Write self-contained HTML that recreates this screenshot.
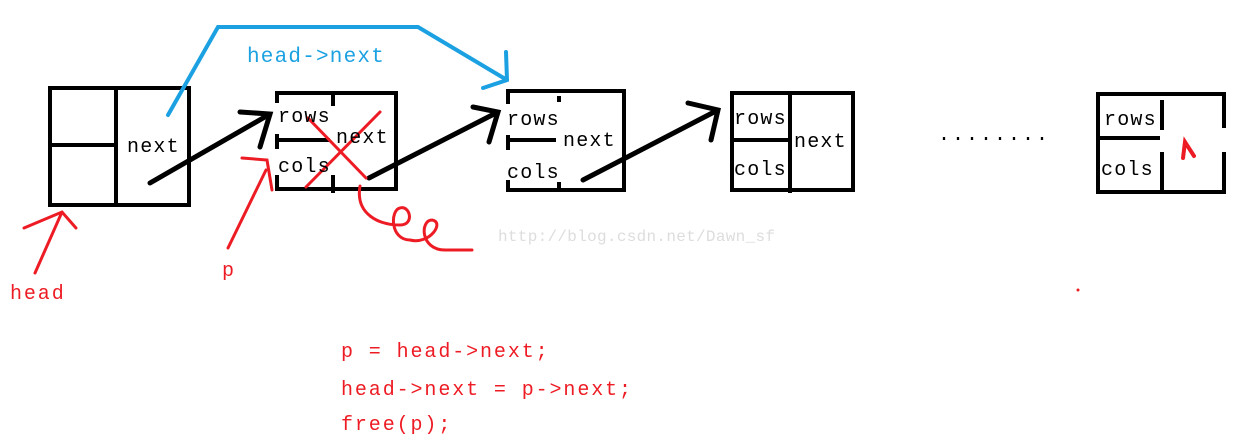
<!DOCTYPE html>
<html><head><style>body{margin:0;background:#fff}svg{display:block}</style></head><body>
<svg width="1256" height="447" xmlns="http://www.w3.org/2000/svg" font-family="Liberation Mono, monospace">
<g fill="none" stroke="#000" stroke-width="4">
<rect x="50" y="88" width="139" height="117"/><line x1="116" y1="88" x2="116" y2="205"/><line x1="50" y1="145" x2="116" y2="145"/>
<line x1="275" y1="93" x2="398" y2="93"/><line x1="275" y1="189" x2="398" y2="189"/><line x1="396" y1="93" x2="396" y2="189"/>
<line x1="277" y1="93" x2="277" y2="103"/><line x1="277" y1="134" x2="277" y2="149"/><line x1="277" y1="175" x2="277" y2="189"/>
<line x1="279" y1="140" x2="330" y2="140"/><line x1="333" y1="93" x2="333" y2="106"/><line x1="333" y1="175" x2="333" y2="193"/>
<line x1="506" y1="91" x2="626" y2="91"/><line x1="506" y1="190" x2="626" y2="190"/><line x1="624" y1="91" x2="624" y2="190"/>
<line x1="508" y1="91" x2="508" y2="104"/><line x1="508" y1="135" x2="508" y2="150"/><line x1="508" y1="180" x2="508" y2="190"/>
<line x1="510" y1="140" x2="556" y2="140"/><line x1="559" y1="96" x2="559" y2="102"/><line x1="559" y1="182" x2="559" y2="190"/>
<rect x="732" y="93" width="121" height="97"/><line x1="790" y1="93" x2="790" y2="193"/><line x1="732" y1="140" x2="788" y2="140"/>
<line x1="1096" y1="94" x2="1226" y2="94"/><line x1="1096" y1="192" x2="1226" y2="192"/><line x1="1098" y1="94" x2="1098" y2="192"/>
<line x1="1224" y1="94" x2="1224" y2="128"/><line x1="1224" y1="152" x2="1224" y2="192"/>
<line x1="1162" y1="100" x2="1162" y2="130"/><line x1="1162" y1="152" x2="1162" y2="192"/><line x1="1098" y1="138" x2="1160" y2="138"/>
</g>
<g fill="none" stroke="#000" stroke-width="5" stroke-linecap="round">
<path d="M150 183 L270 114 M240 112 L270 114 L260 147"/>
<path d="M369 178 L498 112 M473 107 L498 112 L489 142"/>
<path d="M583 180 L718 110 M688 103 L718 110 L711 140"/>
</g>
<g fill="none" stroke="#1ba1e2" stroke-width="4" stroke-linecap="round">
<path d="M168 115 L218 27 L418 27 L507 80 M506 52 L507 80 L483 88"/>
</g>
<g fill="none" stroke="#ed1c24" stroke-width="3" stroke-linecap="round">
<path d="M35 273 L62 212 M24 228 L62 212 L76 228"/>
<path d="M228 248 L266 170 M242 158 L267 160 L272 190"/>
<path d="M308 118 L366 178 M380 112 L306 187"/>
<path d="M360 186 C355 215 380 225 400 225 C415 225 410 205 400 208 C390 210 390 240 410 240 C430 245 445 222 432 220 C420 220 420 250 445 250 L472 250"/>
<path d="M1183 158 L1185 142 L1194 156" stroke-width="4"/>
</g>
<circle cx="1078" cy="290" r="1.5" fill="#ed1c24"/>
<g font-size="20" fill="#000" letter-spacing="1.2">
<text x="127" y="152">next</text>
<text x="278" y="122">rows</text><text x="336" y="143">next</text><text x="278" y="172">cols</text>
<text x="507" y="125">rows</text><text x="563" y="146">next</text><text x="507" y="178">cols</text>
<text x="734" y="124">rows</text><text x="794" y="147">next</text><text x="734" y="175">cols</text>
<text x="1104" y="125">rows</text><text x="1101" y="175">cols</text>
</g>
<text x="938" y="140" font-size="20" letter-spacing="2">........</text>
<text x="247" y="62" font-size="21" fill="#1ba1e2" letter-spacing="1.2">head-&gt;next</text>
<text x="498" y="241" font-size="16" fill="#ddd" font-family="Liberation Mono, monospace" letter-spacing="0.3">http://blog.csdn.net/Dawn_sf</text>
<g font-size="20" fill="#ed1c24" letter-spacing="1.9">
<text x="10" y="299">head</text><text x="222" y="276">p</text>
<text x="341" y="357">p = head-&gt;next;</text>
<text x="341" y="395">head-&gt;next = p-&gt;next;</text>
<text x="341" y="430">free(p);</text>
</g>
</svg>
</body></html>
